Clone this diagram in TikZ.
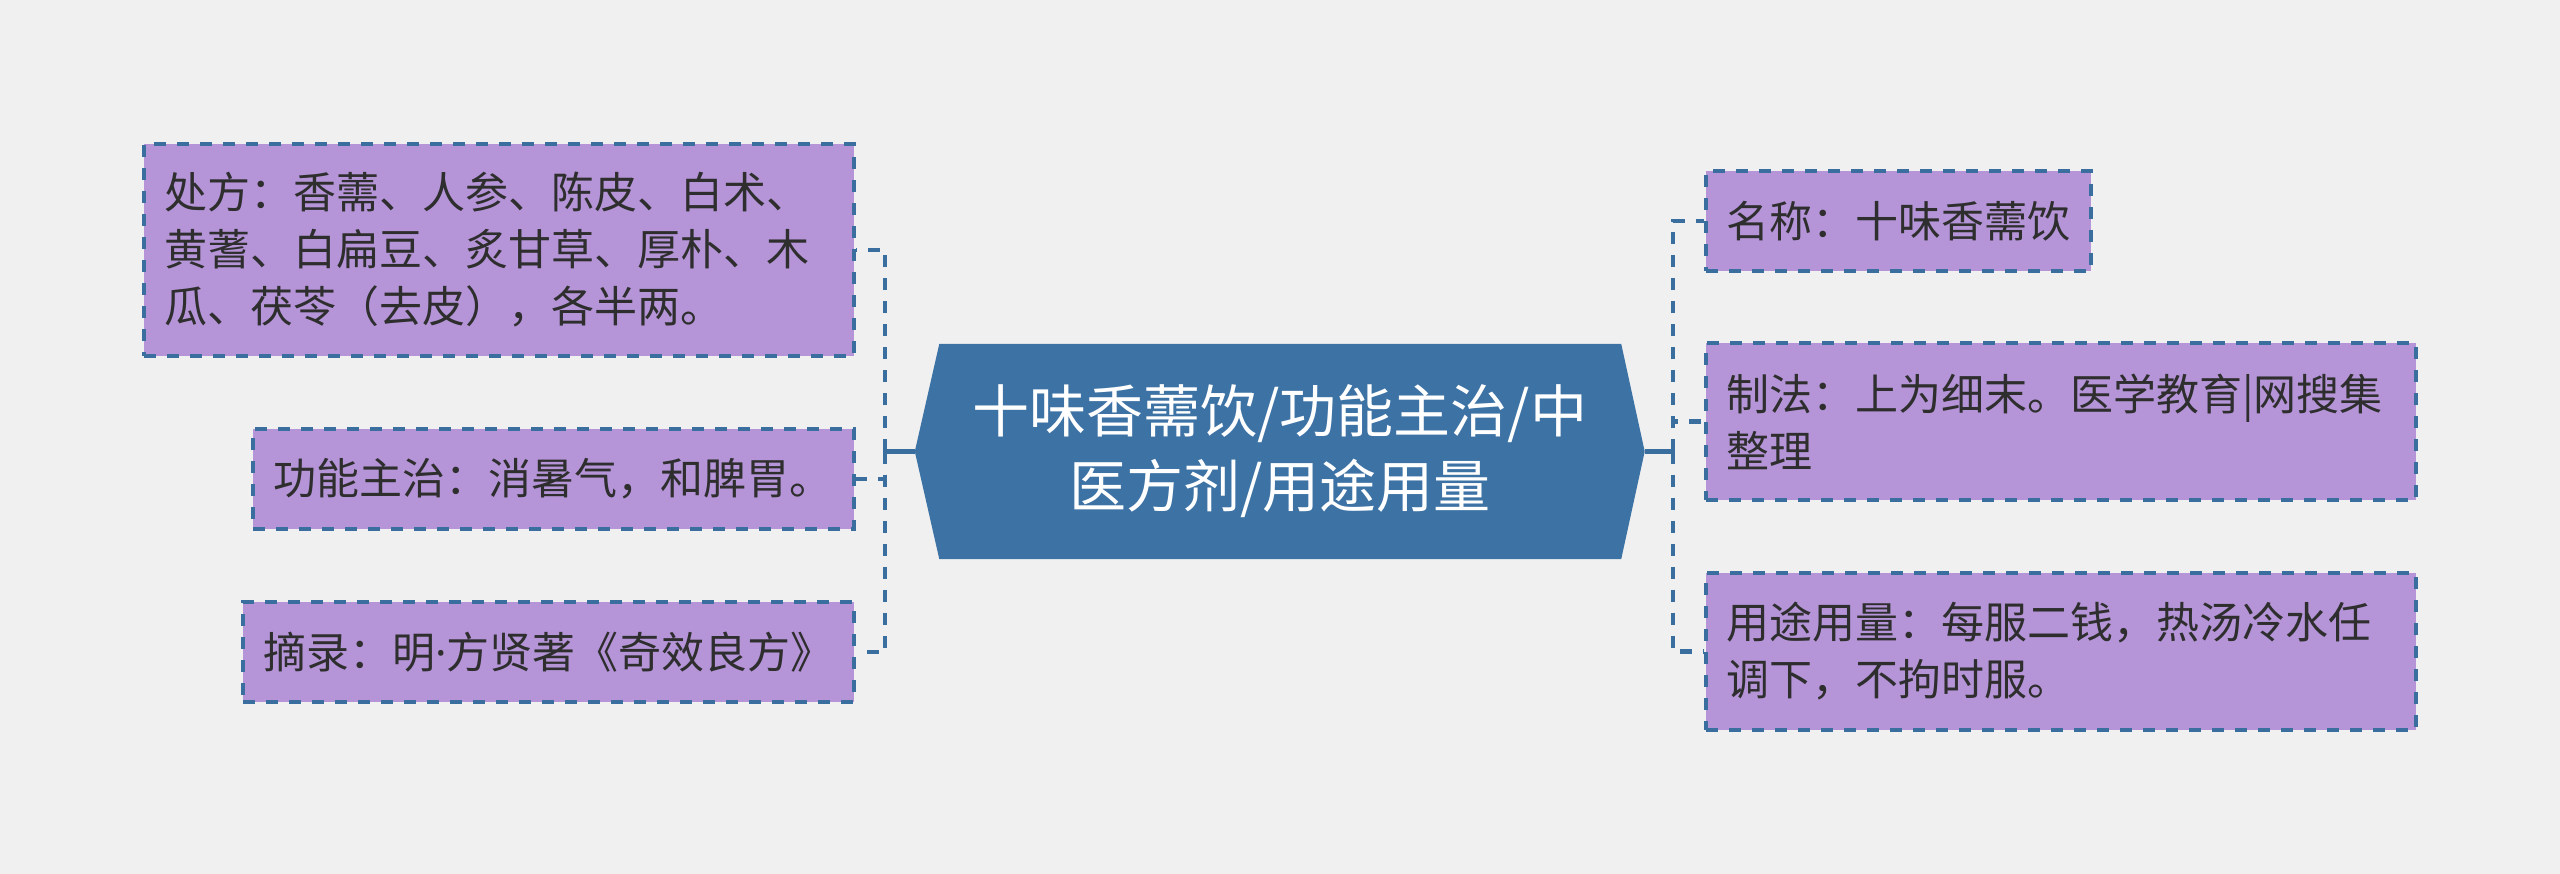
\documentclass[tikz,border=0pt]{standalone}
\usepackage{fontspec}
\newfontfamily\cjk{Noto Sans CJK SC}
\newfontfamily\latinfont{Noto Sans}
\usetikzlibrary{backgrounds}
\definecolor{bg}{HTML}{F0F0F0}
\definecolor{boxfill}{HTML}{B595D8}
\definecolor{linec}{HTML}{3A6E9E}
\definecolor{rootfill}{HTML}{3D72A5}
\definecolor{txt}{HTML}{2E2E2E}
\tikzset{
 leaf/.style={draw=linec, line width=3.5pt, dash pattern=on 12pt off 11pt, fill=boxfill, text=txt, align=left, inner xsep=20pt, inner ysep=0pt, font=\cjk\fontsize{43}{57}\selectfont},
 conn/.style={draw=linec, line width=4.5pt, dash pattern=on 12pt off 11pt},
 rootline/.style={draw=linec, line width=4.5pt},
 roottext/.style={text=white, align=center, font=\cjk\fontsize{57}{75}\selectfont, minimum width=729.5pt, minimum height=215pt, inner sep=0pt}
}
\begin{document}
\begin{tikzpicture}[x=1pt,y=-1pt]
\useasboundingbox (0,0) rectangle (2560,874);
\begin{scope}[on background layer]
\fill[bg] (0,0) rectangle (2560,874);
\end{scope}
\node[roottext] (root) at (1279.75,451.5) {十味香薷饮/功能主治/中\\医方剂/用途用量};
\begin{scope}[on background layer]
\fill[rootfill] (root.west) -- ([xshift=24.5pt]root.north west) -- ([xshift=-23.5pt]root.north east) -- (root.east) -- ([xshift=-23.5pt]root.south east) -- ([xshift=24.5pt]root.south west) -- cycle;
\end{scope}
\node[leaf, text width=670pt, minimum height=212pt] (l1) at (499,250) {处方：香薷、人参、陈皮、白术、\\黄蓍、白扁豆、炙甘草、厚朴、木\\瓜、茯苓（去皮），各半两。};
\node[leaf, text width=561pt, minimum height=100pt] (l2) at (553.5,479) {功能主治：消暑气，和脾胃。};
\node[leaf, text width=571pt, minimum height=100pt] (l3) at (548.5,652) {摘录：明{\latinfont ·}方贤著《奇效良方》};
\node[leaf, text width=345pt, minimum height=100pt] (r1) at (1898.5,221) {名称：十味香薷饮};
\node[leaf, text width=670pt, minimum height=157pt] (r2) at (2061,421.5) {制法：上为细末。医学教育|网搜集\\整理};
\node[leaf, text width=670pt, minimum height=157pt] (r3) at (2061,651.5) {用途用量：每服二钱，热汤冷水任\\调下，不拘时服。};
\coordinate (tl) at (885,451.5);
\coordinate (tr) at (1673,451.5);
\draw[rootline] (root.west) -- (tl);
\draw[rootline] (root.east) -- (tr);
\draw[conn] (tl) |- (l1.east);
\draw[conn] (tl) |- (l2.east);
\draw[conn] (tl) |- (l3.east);
\draw[conn] (tr) |- (r1.west);
\draw[conn] (tr) |- (r2.west);
\draw[conn] (tr) |- (r3.west);
\end{tikzpicture}
\end{document}
